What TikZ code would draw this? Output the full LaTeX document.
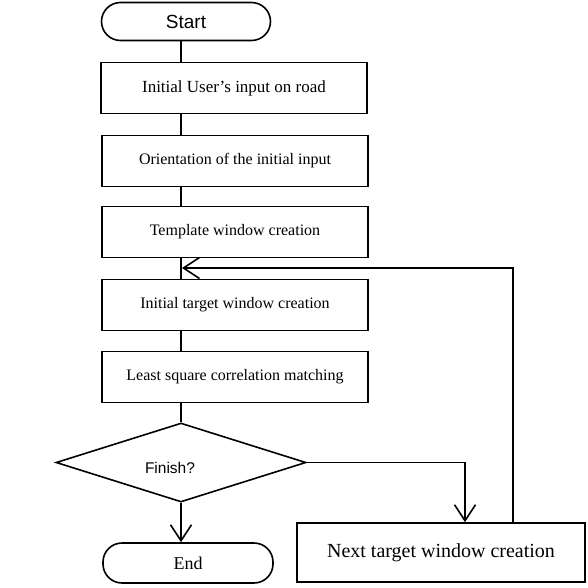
\documentclass[tikz,border=0pt]{standalone}
\usepackage{fontspec}
\setmainfont{Liberation Serif}
\setsansfont{Liberation Sans}
\usetikzlibrary{shapes.geometric,arrows.meta}

\tikzset{
	procbox/.style={draw,rectangle,line width=1.6pt,minimum width=266pt,minimum height=51pt,inner sep=0pt,font=\fontsize{16}{19}\selectfont},
	termbox/.style={draw,rectangle,rounded corners=19pt,line width=1.6pt,minimum width=169pt,minimum height=38pt,inner sep=0pt,font=\fontsize{18}{21}\selectfont},
	flowline/.style={line width=1.6pt},
	flowarrow/.style={line width=1.6pt,-{Straight Barb[length=16pt,width=21pt,line width=1.6pt]}}
}

\begin{document}
\begin{tikzpicture}[x=1pt,y=-1pt]
		\useasboundingbox (0,0) rectangle (588,587);

		% terminals and process boxes
		\node[termbox,font=\sffamily\fontsize{19}{22}\selectfont] (start) at (186,21.5) {Start};
		\node[procbox,font=\fontsize{17}{20}\selectfont] (user) at (234,88) {Initial User's input on road};
		\node[procbox] (orient) at (235,161) {Orientation of the initial input};
		\node[procbox] (tmpl) at (235,232) {Template window creation};
		\node[procbox] (target) at (235,305) {Initial target window creation};
		\node[procbox] (lsq) at (235,377) {Least square correlation matching};
		\node[draw,diamond,line width=1.6pt,aspect=3.2,minimum width=250pt,minimum height=79pt,inner sep=0pt] (finish) at (181,462.5) {};
		\node[font=\sffamily\fontsize{15.5}{18}\selectfont] (finq) at ([xshift=-11pt,yshift=-5pt]finish.center) {Finish?};
		\node[termbox,minimum width=170pt,minimum height=40pt] (end) at (188,563) {End};
		\node[procbox,minimum width=288pt,minimum height=59pt,font=\fontsize{20}{23}\selectfont] (next) at (441,552.5) {Next target window creation};
		\coordinate (back) at (513,268);

		% main line
		\draw[flowline] (start.south -| finish) -- (user.north -| finish);
		\draw[flowline] (user.south -| finish) -- (orient.north -| finish);
		\draw[flowline] (orient.south -| finish) -- (tmpl.north -| finish);
		\draw[flowline] (tmpl.south -| finish) -- (target.north -| finish);
		\draw[flowline] (target.south -| finish) -- (lsq.north -| finish);
		\draw[flowline] (lsq.south -| finish) -- (finish.north);
		\draw[flowarrow] (finish.south) -- (end.north -| finish);

		% loop back for the next window
		\draw[flowarrow] (finish.east) -| ([xshift=24pt]next.north);
		\draw[flowarrow] (next.north -| back) -- (back) -- ([xshift=1pt]back -| finish);
\end{tikzpicture}
\end{document}
